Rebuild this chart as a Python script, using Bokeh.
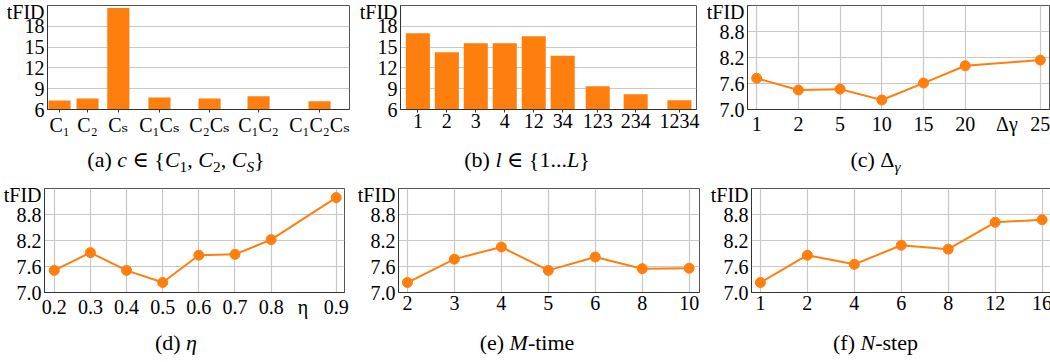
from bokeh.plotting import figure
from bokeh.models import Range1d, FixedTicker, PrintfTickFormatter, Div
from bokeh.layouts import row, column
from bokeh.embed import file_html
from bokeh.resources import INLINE

ORANGE = "#ff7f0e"
FONT = "Liberation Serif, Times New Roman, DejaVu Serif, serif"
CSS_FONT = "'Liberation Serif', 'Times New Roman', 'DejaVu Serif', serif"

# ---------------- data ----------------
# (a) condition combinations
a_cats = ["C₁", "C₂", "Cₛ", "C₁Cₛ", "C₂Cₛ", "C₁C₂", "C₁C₂Cₛ"]
a_vals = [7.30, 7.58, 20.65, 7.74, 7.58, 7.92, 7.20]
a_slots = [0, 1, 2.1, 3.57, 5.36, 7.11, 9.29]

# (b) layers
b_cats = ["1", "2", "3", "4", "12", "34", "123", "234", "1234"]
b_vals = [16.99, 14.24, 15.54, 15.54, 16.55, 13.76, 9.37, 8.21, 7.35]
b_slots = [0, 1, 2, 3, 4, 5, 6.21, 7.52, 9.03]

# (c) Delta gamma
c_cats = ["1", "2", "5", "10", "15", "20", "25"]
c_vals = [7.72, 7.45, 7.47, 7.22, 7.61, 8.01, 8.14]
c_slots = [0, 1, 2, 3, 4, 5, 6.8]
c_xlabel = ("Δγ", 6.0)

# (d) eta
d_cats = ["0.2", "0.3", "0.4", "0.5", "0.6", "0.7", "0.8", "0.9"]
d_vals = [7.51, 7.92, 7.51, 7.23, 7.86, 7.88, 8.22, 9.19]
d_slots = [0, 1, 2, 3, 4, 5, 6, 7.8]
d_xlabel = ("η", 6.88)

# (e) M-time
e_cats = ["2", "3", "4", "5", "6", "8", "10"]
e_vals = [7.23, 7.77, 8.05, 7.51, 7.82, 7.55, 7.56]
e_slots = [0, 1, 2, 3, 4, 5, 6]

# (f) N-step
f_cats = ["1", "2", "4", "6", "8", "12", "16"]
f_vals = [7.23, 7.86, 7.65, 8.09, 8.00, 8.62, 8.68]
f_slots = [0, 1, 2, 3, 4, 5, 6]

bar_yticks = [6, 9, 12, 15, 18]
bar_ylim = (6, 21)
line_yticks = [7.0, 7.6, 8.2, 8.8]
line_ylim = (7.0, 9.4)
ylabel = "tFID"

captions = [
    '(a) <i>c</i> &#8712; {<i>C</i><sub>1</sub>, <i>C</i><sub>2</sub>, <i>C</i><sub><i>S</i></sub>}',
    '(b) <i>l</i> &#8712; {1...<i>L</i>}',
    '(c) &#916;<sub><i>&#947;</i></sub>',
    '(d) <i>&#951;</i>',
    '(e) <i>M</i>-time',
    '(f) <i>N</i>-step',
]

FRAME_H = 104


def base_fig(xr, yr, fw, bl, br, bt, bb, yticks, fmt=None, xgrid=True):
    p = figure(x_range=Range1d(*xr), y_range=Range1d(*yr),
               frame_width=fw, frame_height=FRAME_H,
               min_border_left=bl, min_border_right=br,
               min_border_top=bt, min_border_bottom=bb,
               output_backend="svg", toolbar_location=None, tools="",
               margin=(0, 0, 0, 0), background_fill_color="white",
               border_fill_color="white")
    p.outline_line_color = "#555555"
    p.outline_line_width = 1
    for ax in (p.xaxis, p.yaxis):
        ax.axis_line_color = "#333333"
        ax.major_tick_line_color = "#333333"
        ax.minor_tick_line_color = None
        ax.major_tick_in = 0
        ax.major_label_text_font = FONT
        ax.major_label_text_color = "black"
    p.xaxis.major_label_text_font_size = "20px"
    p.yaxis.major_label_text_font_size = "20px"
    p.yaxis.major_tick_out = 0
    p.yaxis.major_label_standoff = 3
    # the "tFID" label sits in the tick-label column, near the top of the axis
    ylab_pos = yr[1] - 6.5 * (yr[1] - yr[0]) / FRAME_H
    p.yaxis.ticker = FixedTicker(ticks=list(yticks) + [ylab_pos])
    if fmt:
        p.yaxis.formatter = PrintfTickFormatter(format=fmt)
    p.yaxis.major_label_overrides = {ylab_pos: ylabel}
    p.ygrid.ticker = FixedTicker(ticks=list(yticks))
    p.ygrid.grid_line_color = "#c8c8c8"
    p.ygrid.grid_line_width = 1.2
    if xgrid:
        p.xgrid.grid_line_color = "#c8c8c8"
        p.xgrid.grid_line_width = 1.2
    else:
        p.xgrid.visible = False
    return p


def set_xticks(p, slots, cats, extra=None):
    ticks = list(slots)
    over = {s: c for s, c in zip(slots, cats)}
    if extra:
        ticks.append(extra[1])
        over[extra[1]] = extra[0]
    p.xaxis.ticker = FixedTicker(ticks=ticks)
    p.xaxis.major_label_overrides = over
    p.xgrid.ticker = FixedTicker(ticks=list(slots))


def bar_fig(cats, vals, slots, xr, fw, bl, br, width):
    p = base_fig(xr, bar_ylim, fw, bl, br, 5, 32, bar_yticks, xgrid=False)
    p.vbar(x=slots, top=vals, bottom=bar_ylim[0], width=width,
           fill_color=ORANGE, line_color=None)
    p.xaxis.major_tick_out = 3
    p.xaxis.major_label_standoff = 1
    set_xticks(p, slots, cats)
    return p


def line_fig(cats, vals, slots, xr, fw, bl, br, bt, bb, extra=None):
    p = base_fig(xr, line_ylim, fw, bl, br, bt, bb, line_yticks, fmt="%.1f")
    p.line(x=slots, y=vals, line_color=ORANGE, line_width=2)
    p.scatter(x=slots, y=vals, size=10, fill_color=ORANGE, line_color=ORANGE)
    p.xaxis.major_tick_out = 0
    p.xaxis.major_label_standoff = 3
    set_xticks(p, slots, cats, extra)
    return p


# top row: frames at x 47-349, 398-694, 745-1047
pa = bar_fig(a_cats, a_vals, a_slots, (-0.43, 10.36), 302, 47, 7, 0.79)
pb = bar_fig(b_cats, b_vals, b_slots, (-0.6, 9.62), 296, 42, 7, 0.83)
pc = line_fig(c_cats, c_vals, c_slots, (-0.22, 7.02), 302, 44, 2, 5, 32, c_xlabel)

# bottom row: frames at x 43-343, 397-698, 747-1047
pd_ = line_fig(d_cats, d_vals, d_slots, (-0.27, 8.03), 300, 43, 10, 9, 40, d_xlabel)
pe = line_fig(e_cats, e_vals, e_slots, (-0.19, 6.22), 301, 44, 8, 9, 40)
pf = line_fig(f_cats, f_vals, f_slots, (-0.19, 6.2), 300, 41, 2, 9, 40)


def cap(html, w, h):
    style = (f"font-family:{CSS_FONT};font-size:22px;text-align:center;"
             f"line-height:{h}px;color:black;width:{w}px;white-space:nowrap;")
    html = html.replace("<sub>", '<span style="font-size:70%;vertical-align:-0.3em;line-height:0">').replace("</sub>", "</span>")
    return Div(text=f'<div style="{style}">{html}</div>', width=w, height=h,
               margin=(0, 0, 0, 0),
               styles={"font-family": CSS_FONT, "font-size": "22px", "line-height": f"{h}px"})


layout = column(
    row(pa, pb, pc),
    row(cap(captions[0], 352, 38), cap(captions[1], 350, 38), cap(captions[2], 347, 38)),
    row(pd_, pe, pf),
    row(cap(captions[3], 352, 22), cap(captions[4], 350, 22), cap(captions[5], 347, 22)),
)

open("out.html", "w").write(file_html(layout, INLINE))
